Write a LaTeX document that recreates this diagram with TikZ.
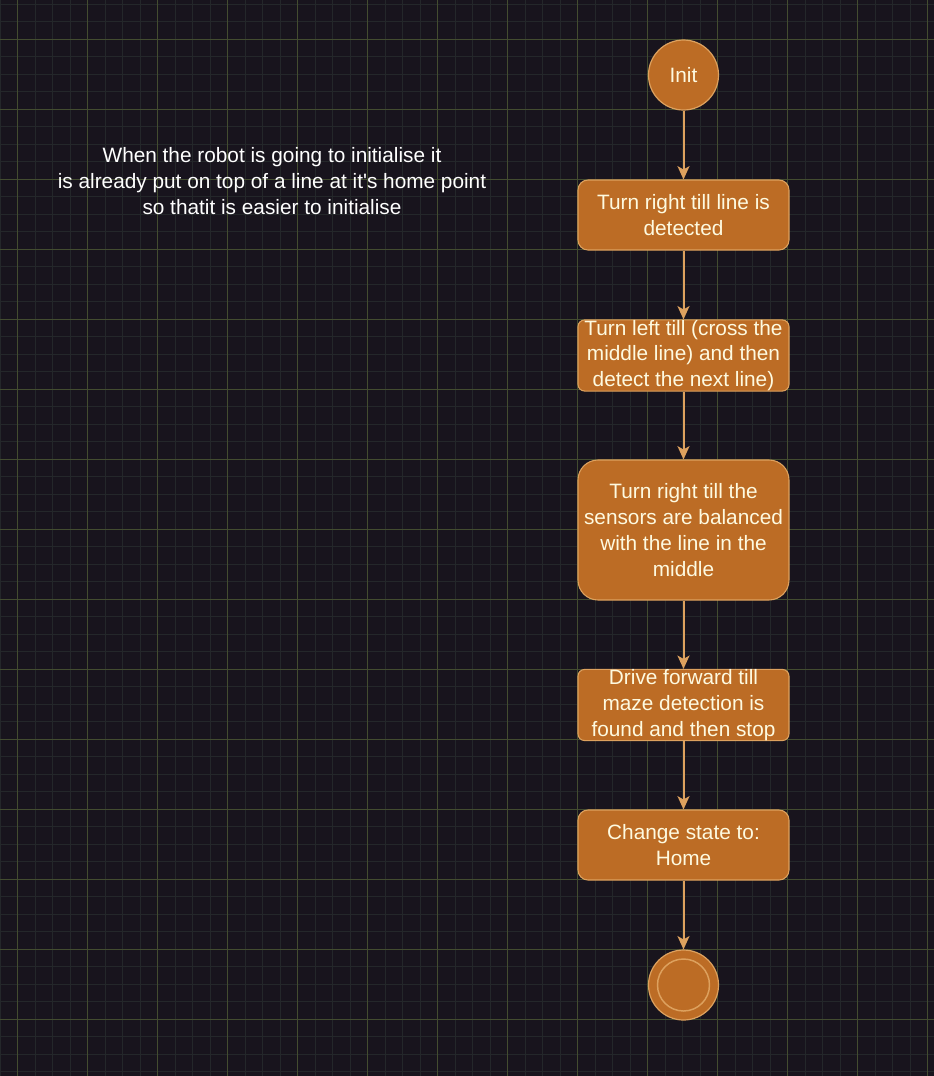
\documentclass[tikz,border=0pt]{standalone}
\usepackage{fontspec}
\setmainfont{Liberation Sans}[Ligatures=TeXOff]
\usetikzlibrary{arrows.meta}
\definecolor{bg}{HTML}{18141D}
\definecolor{gridminor}{HTML}{24272A}
\definecolor{gridmajor}{HTML}{434C30}
\definecolor{nodefill}{HTML}{BC6C25}
\definecolor{nodestroke}{HTML}{DDA15E}
\definecolor{nodetext}{HTML}{FEFAE0}
\tikzset{
  txt/.style={font=\fontsize{15.6pt}{19.4pt}\selectfont, text=nodetext, align=center},
  stepbox/.style={txt, draw=nodestroke, fill=nodefill, line width=0.8pt,
    minimum width=158.25pt, minimum height=52.5pt, inner sep=0pt, rounded corners=#1},
  stepbox/.default=7.5pt,
  statecirc/.style={txt, circle, draw=nodestroke, fill=nodefill, line width=0.9pt,
    minimum size=52.5pt, inner sep=0pt},
  flow/.style={color=nodestroke, line width=1.5pt,
    -{Stealth[length=10pt, width=9pt, inset=2.5pt]}},
}
\begin{document}
\begin{tikzpicture}[x=0.75pt, y=-0.75pt]
\fill[bg] (0,0) rectangle (934,1076);
\useasboundingbox (0,0) rectangle (934,1076);
% grid
\foreach \x in {0,17.5,...,934} \draw[gridminor, line width=0.75pt] (\x,0) -- (\x,1076);
\foreach \y in {4,21.5,...,1076} \draw[gridminor, line width=0.75pt] (0,\y) -- (934,\y);
\foreach \x in {17.5,87.5,...,934} \draw[gridmajor, line width=0.75pt] (\x,0) -- (\x,1076);
\foreach \y in {39,109,...,1076} \draw[gridmajor, line width=0.75pt] (0,\y) -- (934,\y);

% note
\node[txt, text=white] (note) at (272,181) {When the robot is going to initialise it\\is already put on top of a line at it's home point\\so thatit is easier to initialise};

% flow
\node[statecirc] (init) at (683.5,75) {Init};
\node[stepbox=7.5pt] (b1) at (683.5,215) {Turn right till line is\\detected};
\node[stepbox=5pt] (b2) at (683.5,355.5) {Turn left till (cross the\\middle line) and then\\detect the next line)};
\node[stepbox=15pt, minimum height=105pt] (b3) at (683.5,530) {Turn right till the\\sensors are balanced\\with the line in the\\middle};
\node[stepbox=5pt] (b4) at (683.5,705) {Drive forward till\\maze detection is\\found and then stop};
\node[stepbox=7.5pt] (b5) at (683.5,845) {Change state to:\\Home};
\node[statecirc] (end) at (683.5,985) {};
\draw[nodestroke, line width=1.1pt] (end.center) circle (19.5pt);

\draw[flow] (init) -- (b1);
\draw[flow] (b1) -- (b2);
\draw[flow] (b2) -- (b3);
\draw[flow] (b3) -- (b4);
\draw[flow] (b4) -- (b5);
\draw[flow] (b5) -- (end);
\end{tikzpicture}
\end{document}
